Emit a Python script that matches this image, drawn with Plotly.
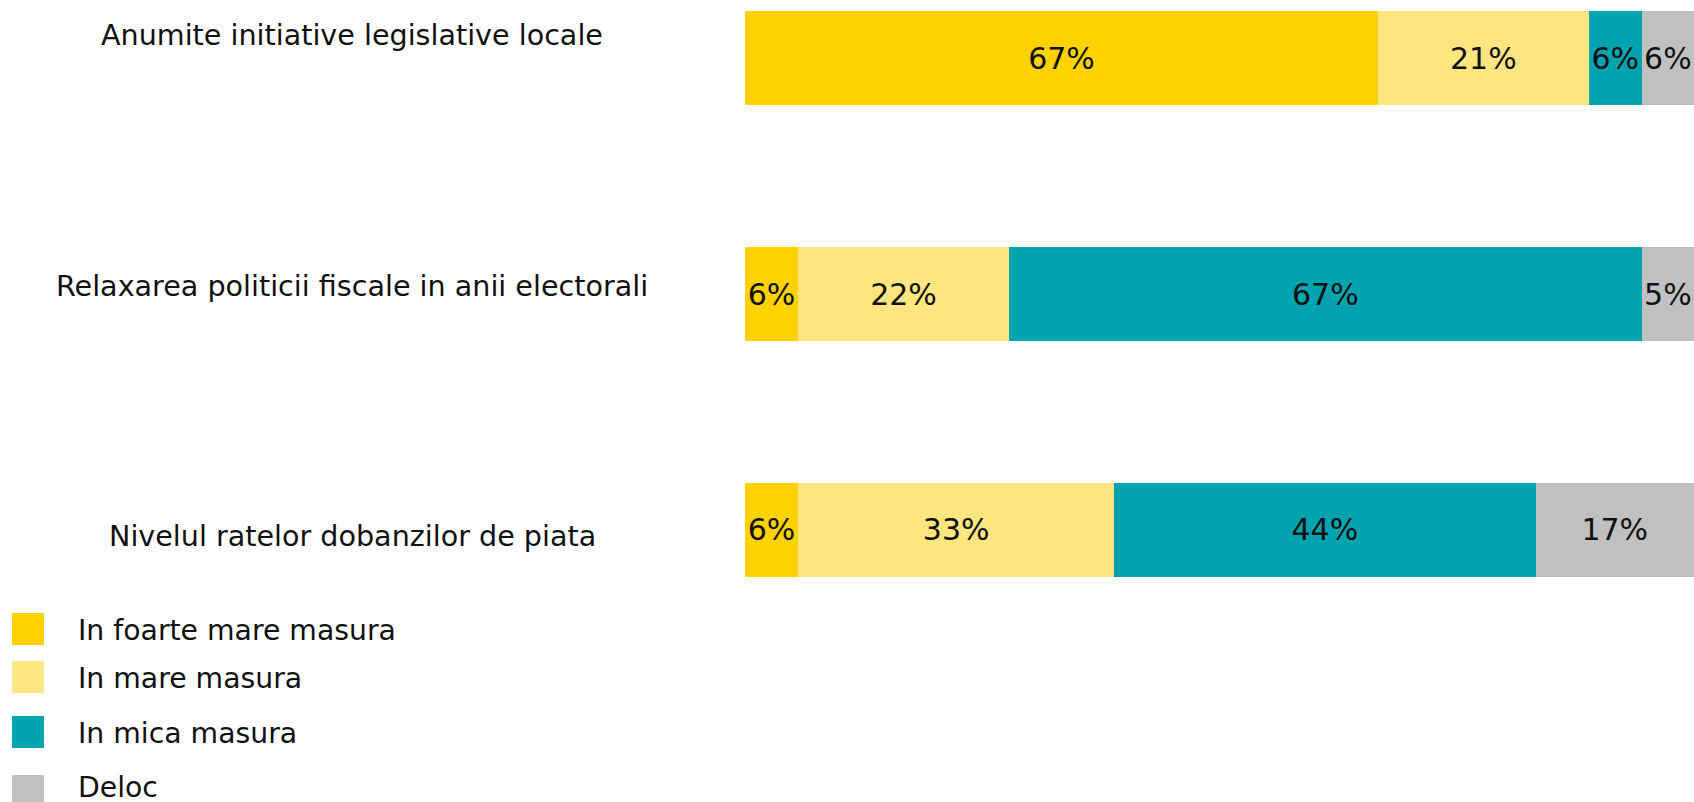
import plotly.graph_objects as go

categories = [
    "Anumite initiative legislative locale",
    "Relaxarea politicii fiscale in anii electorali",
    "Nivelul ratelor dobanzilor de piata",
]
series_names = ["In foarte mare masura", "In mare masura", "In mica masura", "Deloc"]

# segment lengths (percent)
values_foarte_mare = [66.7, 5.6, 5.6]
values_mare = [22.2, 22.2, 33.3]
values_mica = [5.6, 66.7, 44.4]
values_deloc = [5.5, 5.5, 16.7]

# labels as printed on the bars
labels_foarte_mare = ["67%", "6%", "6%"]
labels_mare = ["21%", "22%", "33%"]
labels_mica = ["6%", "67%", "44%"]
labels_deloc = ["6%", "5%", "17%"]

series_values = [values_foarte_mare, values_mare, values_mica, values_deloc]
series_labels = [labels_foarte_mare, labels_mare, labels_mica, labels_deloc]
colors = ["#FFD200", "#FFE680", "#00A3AE", "#C0C0C0"]

W, H = 1694, 802
FONT = "DejaVu Sans, Verdana, sans-serif"
TXT = "#111111"

fig = go.Figure()
for name, vals, labs, col in zip(series_names, series_values, series_labels, colors):
    fig.add_trace(go.Bar(
        name=name, y=categories, x=vals, orientation="h",
        marker=dict(color=col, line=dict(width=0)),
        text=labs,
        textposition="inside", insidetextanchor="middle",
        constraintext="none", textangle=0,
        textfont=dict(size=30, color=TXT, family=FONT),
        hoverinfo="skip", showlegend=False,
    ))

# category labels on the left
label_shift = [23, 8, -6]
for cat, ys in zip(categories, label_shift):
    fig.add_annotation(
        x=352 / W, xref="paper", xanchor="center",
        y=cat, yref="y", yanchor="middle", yshift=ys,
        text=cat, showarrow=False,
        font=dict(size=28.6, color=TXT, family=FONT),
    )

# custom legend (large square swatches)
legend_centers = [629, 677, 732, 791]
legend_text_centers = [630, 678, 733, 787]
for name, col, cy, ty in zip(series_names, colors, legend_centers, legend_text_centers):
    fig.add_shape(
        type="rect", xref="paper", yref="paper",
        x0=12 / W, x1=44 / W,
        y0=1 - (cy + 16) / H, y1=1 - (cy - 16) / H,
        fillcolor=col, line=dict(width=0),
    )
    fig.add_annotation(
        x=76 / W, xref="paper", xanchor="left",
        y=1 - ty / H, yref="paper", yanchor="middle",
        text=name, showarrow=False,
        font=dict(size=28.3, color=TXT, family=FONT),
    )

fig.update_layout(
    width=W, height=H,
    barmode="stack", bargap=0.601,
    margin=dict(l=0, r=0, t=0, b=0),
    paper_bgcolor="white", plot_bgcolor="white",
    xaxis=dict(domain=[745 / W, 1], range=[0, 100], visible=False, fixedrange=True),
    yaxis=dict(type="category", categoryorder="array", categoryarray=categories,
               range=[3.156, -0.248], visible=False, fixedrange=True),
    font=dict(family=FONT, color=TXT),
)

fig.write_html(
    "out.html",
    config={"displayModeBar": False},
    post_script="document.body.style.margin='0';document.body.style.overflow='hidden';",
)
